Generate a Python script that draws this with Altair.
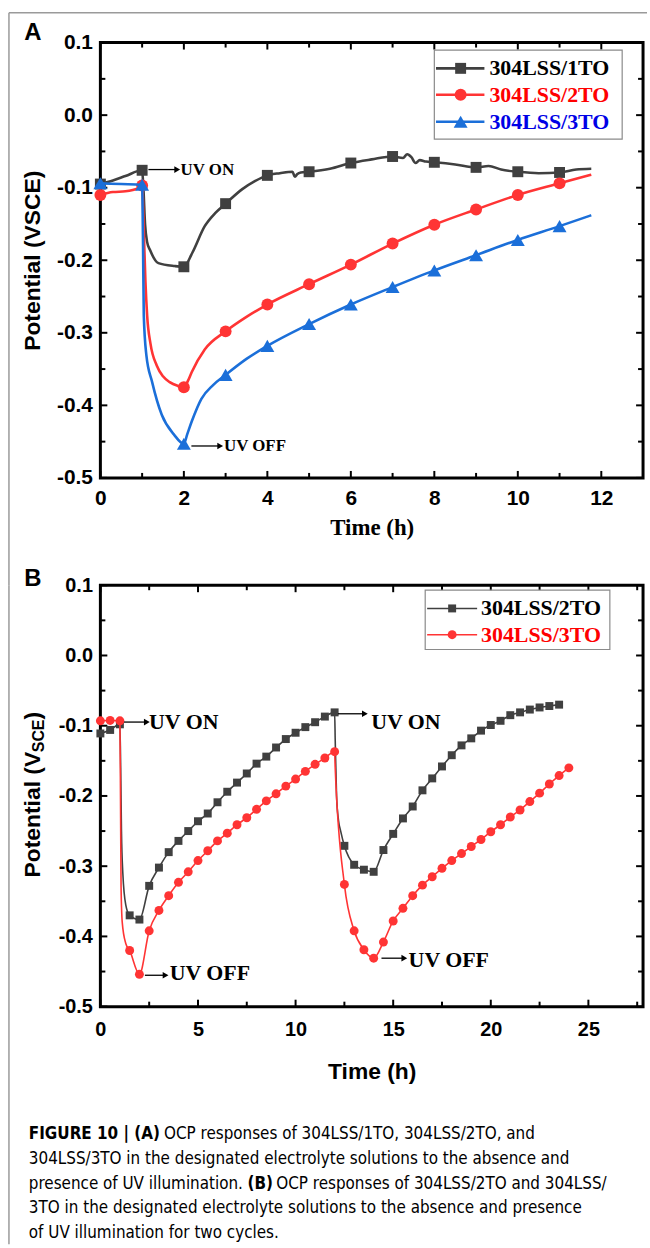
import altair as alt
import pandas as pd

SANS = "Liberation Sans"
SERIF = "Liberation Serif"
NARROW = "Liberation Sans Narrow, DejaVu Sans Condensed, Liberation Sans"

GRAY = "#404040"
RED = "#ff3434"
BLUE = "#1b6fd9"
FRAME = "#9a9a9a"

# ---------------- Panel A: one UV cycle (ON at 1 h, OFF at 2 h) ----------------
A1_T = [0.0, 0.3, 0.6, 1.0, 1.03, 1.07, 1.12, 1.19, 1.39, 1.78, 2.0, 2.2, 2.5, 2.75,
        3.0, 3.4, 3.7, 4.0, 4.3, 4.6, 4.66, 4.72, 4.8, 5.0, 5.5, 6.0, 6.5, 7.0, 7.25,
        7.35, 7.45, 7.55, 7.65, 7.8, 8.0, 8.5, 9.0, 9.3, 9.6, 10.0, 10.5, 11.0, 11.4, 11.76]
A1_V = [-0.095, -0.090, -0.084, -0.076, -0.100, -0.150, -0.175, -0.186, -0.204, -0.208,
        -0.209, -0.190, -0.153, -0.135, -0.122, -0.102, -0.091, -0.083, -0.080, -0.078,
        -0.085, -0.081, -0.079, -0.078, -0.074, -0.066, -0.061, -0.057, -0.059, -0.054,
        -0.058, -0.066, -0.062, -0.064, -0.065, -0.068, -0.072, -0.070, -0.075, -0.078,
        -0.080, -0.079, -0.075, -0.074]

A2_T = [0.0, 0.3, 0.6, 0.9, 1.0, 1.04, 1.08, 1.12, 1.2, 1.35, 1.5, 1.66, 1.85, 2.0, 2.1,
        2.19, 2.5, 3.0, 3.5, 4.0, 5.0, 6.0, 7.0, 8.0, 9.0, 10.0, 11.0, 11.76]
A2_V = [-0.110, -0.106, -0.105, -0.101, -0.097, -0.160, -0.230, -0.276, -0.315, -0.345,
        -0.360, -0.368, -0.373, -0.375, -0.366, -0.354, -0.323, -0.298, -0.278, -0.261,
        -0.233, -0.206, -0.177, -0.151, -0.130, -0.110, -0.094, -0.082]

A3_T = [0.0, 0.5, 1.0, 1.02, 1.04, 1.1, 1.24, 1.47, 1.76, 2.0, 2.08, 2.19, 2.42, 2.7, 3.0,
        3.5, 4.0, 5.0, 6.0, 7.0, 8.0, 9.0, 10.0, 11.0, 11.76]
A3_V = [-0.094, -0.095, -0.096, -0.170, -0.276, -0.330, -0.368, -0.413, -0.440, -0.453,
        -0.440, -0.422, -0.391, -0.372, -0.358, -0.336, -0.318, -0.288, -0.261, -0.237,
        -0.214, -0.193, -0.172, -0.153, -0.138]

A_NAMES = ["304LSS/1TO", "304LSS/2TO", "304LSS/3TO"]
A_TEXT_COLORS = ["#000000", "#ff0000", "#0000e6"]

# ---------------- Panel B: two UV cycles (ON at 1 h and 12 h) ----------------
B1_T = [0.0, 0.5, 1.0, 1.04, 1.08, 1.15, 1.3, 1.5, 2.0, 2.5, 3.0, 3.5, 4.0, 4.5, 5.0,
        5.5, 6.0, 6.5, 7.0, 7.5, 8.0, 8.5, 9.0, 9.5, 10.0, 10.5, 11.0, 11.5, 12.0,
        12.03, 12.1, 12.2, 12.31, 12.5, 13.0, 13.5, 14.0, 14.5, 15.0, 15.5, 16.0, 16.5,
        17.0, 17.5, 18.0, 18.5, 19.0, 19.5, 20.0, 20.5, 21.0, 21.5, 22.0, 22.5, 23.0, 23.5]
B1_V = [-0.111, -0.106, -0.098, -0.160, -0.250, -0.310, -0.355, -0.370, -0.376, -0.328,
        -0.302, -0.280, -0.264, -0.250, -0.236, -0.225, -0.209, -0.194, -0.181, -0.168,
        -0.154, -0.144, -0.131, -0.119, -0.110, -0.102, -0.095, -0.087, -0.081,
        -0.120, -0.200, -0.235, -0.250, -0.271, -0.298, -0.305, -0.308, -0.277, -0.254,
        -0.232, -0.215, -0.192, -0.175, -0.158, -0.142, -0.128, -0.118, -0.107, -0.099,
        -0.093, -0.085, -0.081, -0.077, -0.074, -0.072, -0.070]

B2_T = [0.0, 0.5, 1.0, 1.03, 1.06, 1.12, 1.3, 1.5, 2.0, 2.5, 3.0, 3.5, 4.0, 4.5, 5.0,
        5.5, 6.0, 6.5, 7.0, 7.5, 8.0, 8.5, 9.0, 9.5, 10.0, 10.5, 11.0, 11.5, 12.0, 12.03,
        12.5, 13.0, 13.5, 14.0, 14.5, 15.0, 15.5, 16.0, 16.5, 17.0, 17.5, 18.0, 18.5,
        19.0, 19.5, 20.0, 20.5, 21.0, 21.5, 22.0, 22.5, 23.0, 23.5, 24.0]
B2_V = [-0.093, -0.0925, -0.093, -0.200, -0.330, -0.380, -0.410, -0.420, -0.454, -0.392,
        -0.363, -0.342, -0.323, -0.308, -0.292, -0.278, -0.264, -0.253, -0.241, -0.231,
        -0.219, -0.207, -0.197, -0.186, -0.176, -0.165, -0.155, -0.146, -0.137, -0.160,
        -0.326, -0.392, -0.419, -0.431, -0.408, -0.378, -0.360, -0.342, -0.327, -0.315,
        -0.303, -0.292, -0.282, -0.272, -0.262, -0.251, -0.241, -0.230, -0.220, -0.208,
        -0.196, -0.183, -0.171, -0.160]

B_NAMES = ["304LSS/2TO", "304LSS/3TO"]
B_TEXT_COLORS = ["#000000", "#ff0000"]

# axis tick values
Y_MAJOR = [-0.5, -0.4, -0.3, -0.2, -0.1, 0.0, 0.1]
Y_MINOR = [-0.45, -0.35, -0.25, -0.15, -0.05, 0.05]
A_X_MAJOR = [0, 2, 4, 6, 8, 10, 12]
A_X_MINOR = [1, 3, 5, 7, 9, 11]
B_X_MAJOR = [0, 5, 10, 15, 20, 25]
B_X_MINOR = [2.5, 7.5, 12.5, 17.5, 22.5, 27.5]

CAP_TEXT = ["FIGURE 10 | (A)",
            "OCP responses of 304LSS/1TO, 304LSS/2TO, and",
            "304LSS/3TO in the designated electrolyte solutions to the absence and",
            "presence of UV illumination.",
            "(B)",
            "OCP responses of 304LSS/2TO and 304LSS/",
            "3TO in the designated electrolyte solutions to the absence and presence",
            "of UV illumination for two cycles."]
CAP_BOLD = [True, False, False, False, True, False, False, False]
CAP_PX = [-72, 64, -72, -72, 148, 177, -72, -72]
CAP_PY = [20, 20, 45, 70, 70, 70, 95, 120]

W = 546
H_A, H_B = 438, 424
Y_LABEL_EXPR = "datum.value < 0 ? '-' + format(-datum.value, '.1f') : format(datum.value, '.1f')"
ONE = pd.DataFrame({"k": [0]})


def y_enc(title, title_y, fs):
    if title:
        axis = alt.Axis(values=Y_MAJOR, labelExpr=Y_LABEL_EXPR, tickSize=0, domain=False,
                        grid=False, labelFont=SANS, labelFontSize=fs, labelFontWeight="bold",
                        labelPadding=8, labelFlush=False, labelOverlap=False,
                        title=title, titleFont=SANS, titleFontSize=23, titleFontWeight="bold",
                        titleX=-68, titleY=title_y, titleAngle=270, titleBaseline="middle",
                        titleAlign="center")
    else:
        axis = alt.Axis(values=Y_MAJOR, labelExpr=Y_LABEL_EXPR, tickSize=0, domain=False,
                        grid=False, labelFont=SANS, labelFontSize=fs, labelFontWeight="bold",
                        labelPadding=8, labelFlush=False, labelOverlap=False, title=None)
    return alt.Y("v:Q", scale=alt.Scale(domain=[-0.5, 0.1], nice=False, zero=False), axis=axis)


def x_enc(domain, values, pad, title_font, title_y, fs):
    axis = alt.Axis(values=values, tickSize=0, domain=False, grid=False, labelFont=SANS,
                    labelFontSize=fs, labelFontWeight="bold", labelPadding=pad,
                    labelFlush=False, labelOverlap=False, title="Time (h)",
                    titleFont=title_font, titleFontSize=23, titleFontWeight="bold",
                    titleY=title_y, titleBaseline="middle")
    return alt.X("t:Q", scale=alt.Scale(domain=domain, nice=False, zero=False), axis=axis)


def series(t, v, color, shape, size, lw, test, X, Y):
    df = pd.DataFrame({"t": t, "v": v})
    base = alt.Chart(df)
    line = base.mark_line(color=color, strokeWidth=lw, interpolate="monotone").encode(x=X, y=Y)
    pts = base.transform_filter(test).mark_point(
        shape=shape, filled=True, color=color, size=size, opacity=1).encode(x=X, y=Y)
    return [line, pts]


def ticks(x_major, x_minor, X, Y, h):
    out = []
    for vals, ln in ((x_major, 7), (x_minor, 5)):
        c = alt.Chart(pd.DataFrame({"t": vals})).mark_rule(color="black", strokeWidth=2)
        out.append(c.encode(x=X, y=alt.value(h), y2=alt.value(h - ln)))
        out.append(c.encode(x=X, y=alt.value(0), y2=alt.value(ln)))
    for vals, ln in ((Y_MAJOR, 7), (Y_MINOR, 5)):
        c = alt.Chart(pd.DataFrame({"v": vals})).mark_rule(color="black", strokeWidth=2)
        out.append(c.encode(y=Y, x=alt.value(0), x2=alt.value(ln)))
        out.append(c.encode(y=Y, x=alt.value(W), x2=alt.value(W - ln)))
    return out


def legend(names, text_colors, colors, shapes, sizes, lw, rows, box, line_x, mark_x, text_x, X, Y):
    out = [alt.Chart(pd.DataFrame({"t": [box[0]], "t2": [box[1]], "v": [box[2]], "v2": [box[3]]}))
           .mark_rect(fill="white", stroke="#8a8a8a", strokeWidth=1.2)
           .encode(x=X, x2=alt.X2("t2"), y=Y, y2=alt.Y2("v2"))]
    for name, tc, c, sh, sz, yv in zip(names, text_colors, colors, shapes, sizes, rows):
        out.append(alt.Chart(pd.DataFrame({"t": [line_x[0]], "t2": [line_x[1]], "v": [yv]}))
                   .mark_rule(color=c, strokeWidth=lw).encode(x=X, x2=alt.X2("t2"), y=Y))
        out.append(alt.Chart(pd.DataFrame({"t": [mark_x], "v": [yv]}))
                   .mark_point(shape=sh, filled=True, color=c, size=sz, opacity=1)
                   .encode(x=X, y=Y))
        out.append(alt.Chart(pd.DataFrame({"t": [text_x], "v": [yv], "name": [name]}))
                   .mark_text(align="left", baseline="middle", font=SERIF, fontSize=22,
                              fontWeight="bold", color=tc)
                   .encode(x=X, y=Y, text="name:N"))
    return out


def notes(starts, ends, levels, text_x, text_y, labels, fs, X, Y):
    arrows = pd.DataFrame({"t": starts, "t2": ends, "v": levels})
    heads = pd.DataFrame({"t": ends, "v": levels})
    words = pd.DataFrame({"t": text_x, "v": text_y, "label": labels})
    return [
        alt.Chart(arrows).mark_rule(color="black", strokeWidth=1.3)
        .encode(x=X, x2=alt.X2("t2"), y=Y),
        alt.Chart(heads).mark_point(shape="triangle-right", filled=True, color="black",
                                    size=45, opacity=1).encode(x=X, y=Y),
        alt.Chart(words).mark_text(align="left", baseline="middle", font=SERIF, fontSize=fs,
                                   fontWeight="bold", color="black")
        .encode(x=X, y=Y, text="label:N"),
    ]


def frame(top, bottom, with_top_line):
    out = [alt.Chart(ONE).mark_rule(color=FRAME, strokeWidth=1.5)
           .encode(x=alt.value(-92), y=alt.value(top), y2=alt.value(bottom))]
    if with_top_line:
        out.append(alt.Chart(ONE).mark_rule(color=FRAME, strokeWidth=1.5)
                   .encode(x=alt.value(-92), x2=alt.value(550), y=alt.value(top)))
    return out


def panel_tag(letter, y):
    return alt.Chart(pd.DataFrame({"tag": [letter]})).mark_text(
        font=SANS, fontSize=24, fontWeight="bold", color="black", baseline="middle"
    ).encode(text="tag:N", x=alt.value(-68), y=alt.value(y))


# ---------------- Panel A ----------------
XA = x_enc([0, 13], A_X_MAJOR, 10, SERIF, 50, 21)
YA = y_enc("Potential (VSCE)", H_A / 2, 21)
a_test = "datum.t % 1 == 0"

panel_a = alt.layer(
    *frame(-30, H_A + 108, True),
    *ticks(A_X_MAJOR, A_X_MINOR, XA, YA, H_A),
    *series(A1_T, A1_V, GRAY, "square", 121, 2.6, a_test, XA, YA),
    *series(A2_T, A2_V, RED, "circle", 144, 2.6, a_test, XA, YA),
    *series(A3_T, A3_V, BLUE, "triangle-up", 196, 2.6, a_test, XA, YA),
    *legend(A_NAMES, A_TEXT_COLORS, [GRAY, RED, BLUE], ["square", "circle", "triangle-up"],
            [121, 144, 196], 2.6, [0.0645, 0.028, -0.009], [8.0, 12.5, 0.0895, -0.033],
            [8.04, 9.2], 8.63, 9.32, XA, YA),
    *notes([1.15, 2.18], [1.84, 2.87], [-0.075, -0.456], [1.92, 2.96], [-0.075, -0.456],
           ["UV ON", "UV OFF"], 17, XA, YA),
    panel_tag("A", -10),
).properties(width=W, height=H_A)

# ---------------- Panel B ----------------
XB = x_enc([0, 27.8], B_X_MAJOR, 13, SANS, 65, 20)
YB = y_enc(None, 0, 20)
b_test = "(datum.t * 2) % 1 == 0"

title_b = alt.Chart(pd.DataFrame({"piece": ["Potential (V", "SCE", ")"]}))
title_layers = [
    title_b.transform_filter(f"datum.piece == '{p}'").mark_text(
        font=SANS, fontWeight="bold", fontSize=s, angle=270, align="left",
        baseline="middle", dx=d, dy=e, color="black"
    ).encode(text="piece:N", x=alt.value(-68), y=alt.value(H_B / 2))
    for p, s, d, e in (("Potential (V", 23, -82, 0), ("SCE", 16, 44, 6), (")", 23, 77, 0))
]

panel_b = alt.layer(
    *frame(0, H_B + 108, False),
    *ticks(B_X_MAJOR, B_X_MINOR, XB, YB, H_B),
    *series(B1_T, B1_V, GRAY, "square", 64, 1.6, b_test, XB, YB),
    *series(B2_T, B2_V, RED, "circle", 81, 1.6, b_test, XB, YB),
    *legend(B_NAMES, B_TEXT_COLORS, [GRAY, RED], ["square", "circle"], [64, 81], 1.6,
            [0.067, 0.0296], [16.64, 26.1, 0.093, 0.0085], [16.74, 19.3], 18.02, 19.5, XB, YB),
    *notes([1.21, 12.17, 2.28, 14.4], [2.38, 13.55, 3.34, 15.57],
           [-0.0948, -0.083, -0.4553, -0.431], [2.49, 13.87, 3.55, 15.79],
           [-0.0948, -0.095, -0.452, -0.4335], ["UV ON", "UV ON", "UV OFF", "UV OFF"],
           22, XB, YB),
    *title_layers,
    panel_tag("B", -6),
).properties(width=W, height=H_B)

# ---------------- Caption ----------------
cap = pd.DataFrame({"txt": CAP_TEXT, "bold": CAP_BOLD, "px": CAP_PX, "py": CAP_PY})
cap_base = alt.Chart(cap).encode(
    x=alt.X("px:Q", scale=None), y=alt.Y("py:Q", scale=None), text="txt:N")
caption = alt.layer(
    *frame(0, 131, False),
    cap_base.transform_filter("datum.bold").mark_text(
        align="left", baseline="middle", font=NARROW, fontSize=17, fontWeight="bold",
        color="black"),
    cap_base.transform_filter("!datum.bold").mark_text(
        align="left", baseline="middle", font=NARROW, fontSize=17, color="black"),
).properties(width=W, height=110, view=alt.ViewBackground(stroke="transparent"))

chart = alt.vconcat(panel_a, panel_b, caption, spacing=108, bounds="flush").properties(
    padding={"left": 6, "top": 6, "right": 0, "bottom": 0}, background="white"
).configure_view(stroke="black", strokeWidth=3)

chart.save("out.html", embed_options={"renderer": "svg", "actions": False})
